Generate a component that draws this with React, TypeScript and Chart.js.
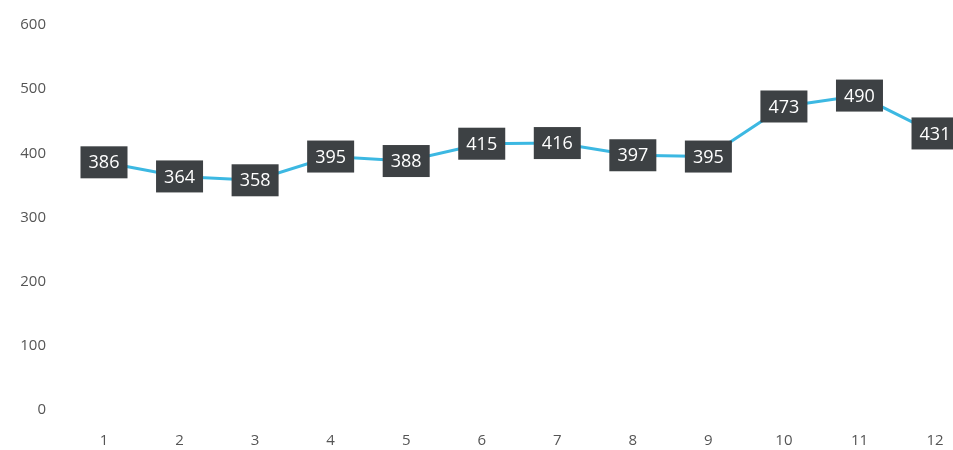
import React, { useEffect, useRef } from "react";
import { Chart, registerables } from "chart.js";

Chart.register(...registerables);

const categories = [1, 2, 3, 4, 5, 6, 7, 8, 9, 10, 11, 12];
const values = [386, 364, 358, 395, 388, 415, 416, 397, 395, 473, 490, 431];
const yTicks = [0, 100, 200, 300, 400, 500, 600];

const labelBoxes = {
  id: "labelBoxes",
  afterDatasetsDraw(chart: any) {
    const ctx = chart.ctx;
    const meta = chart.getDatasetMeta(0);
    ctx.save();
    ctx.font = "18px 'Open Sans', 'Liberation Sans', sans-serif";
    ctx.textAlign = "center";
    ctx.textBaseline = "middle";
    meta.data.forEach((pt: any, i: number) => {
      const w = 47;
      const h = 32;
      ctx.fillStyle = "#3d4144";
      ctx.fillRect(pt.x - w / 2, pt.y - h / 2, w, h);
      ctx.fillStyle = "#ffffff";
      ctx.fillText(String(values[i]), pt.x, pt.y + 1);
    });
    ctx.restore();
  },
};

export default function App() {
  const ref = useRef<HTMLCanvasElement | null>(null);
  useEffect(() => {
    if (!ref.current) return;
    const chart = new Chart(ref.current, {
      type: "line",
      data: {
        datasets: [
          {
            data: categories.map((c, i) => ({ x: c, y: values[i] })),
            borderColor: "#3cb8e2",
            borderWidth: 3,
            pointRadius: 0,
            tension: 0,
          },
        ],
      },
      options: {
        animation: false,
        responsive: false,
        maintainAspectRatio: false,
        layout: { padding: { left: 0, right: 0, top: 25, bottom: 0 } },
        plugins: { legend: { display: false }, tooltip: { enabled: false } },
        scales: {
          x: {
            type: "linear",
            min: 0.497,
            max: 12.238,
            grid: { display: false, drawTicks: true, tickLength: 22 },
            border: { display: false },
            afterBuildTicks: (scale: any) => {
              scale.ticks = categories.map((v) => ({ value: v }));
            },
            afterFit: (scale: any) => {
              scale.height = 40;
            },
            ticks: {
              autoSkip: false,
              maxRotation: 0,
              padding: 0,
              color: "#555555",
              font: { family: "'Open Sans', 'Liberation Sans', sans-serif", size: 15 },
              callback: (v: any) => String(v),
            },
          },
          y: {
            min: 0,
            max: 600,
            grid: { display: false, drawTicks: true, tickLength: 20 },
            border: { display: false },
            afterBuildTicks: (scale: any) => {
              scale.ticks = yTicks.map((v) => ({ value: v }));
            },
            afterFit: (scale: any) => {
              scale.width = 66;
            },
            ticks: {
              padding: 0,
              color: "#555555",
              font: { family: "'Open Sans', 'Liberation Sans', sans-serif", size: 15 },
            },
          },
        },
      },
      plugins: [labelBoxes],
    } as any);
    return () => chart.destroy();
  }, []);
  return (
    <div
      style={{
        position: "fixed",
        left: 0,
        top: 0,
        width: 953,
        height: 450,
        overflow: "hidden",
        background: "#ffffff",
      }}
    >
      <canvas ref={ref} width={953} height={450} style={{ display: "block" }} />
    </div>
  );
}
